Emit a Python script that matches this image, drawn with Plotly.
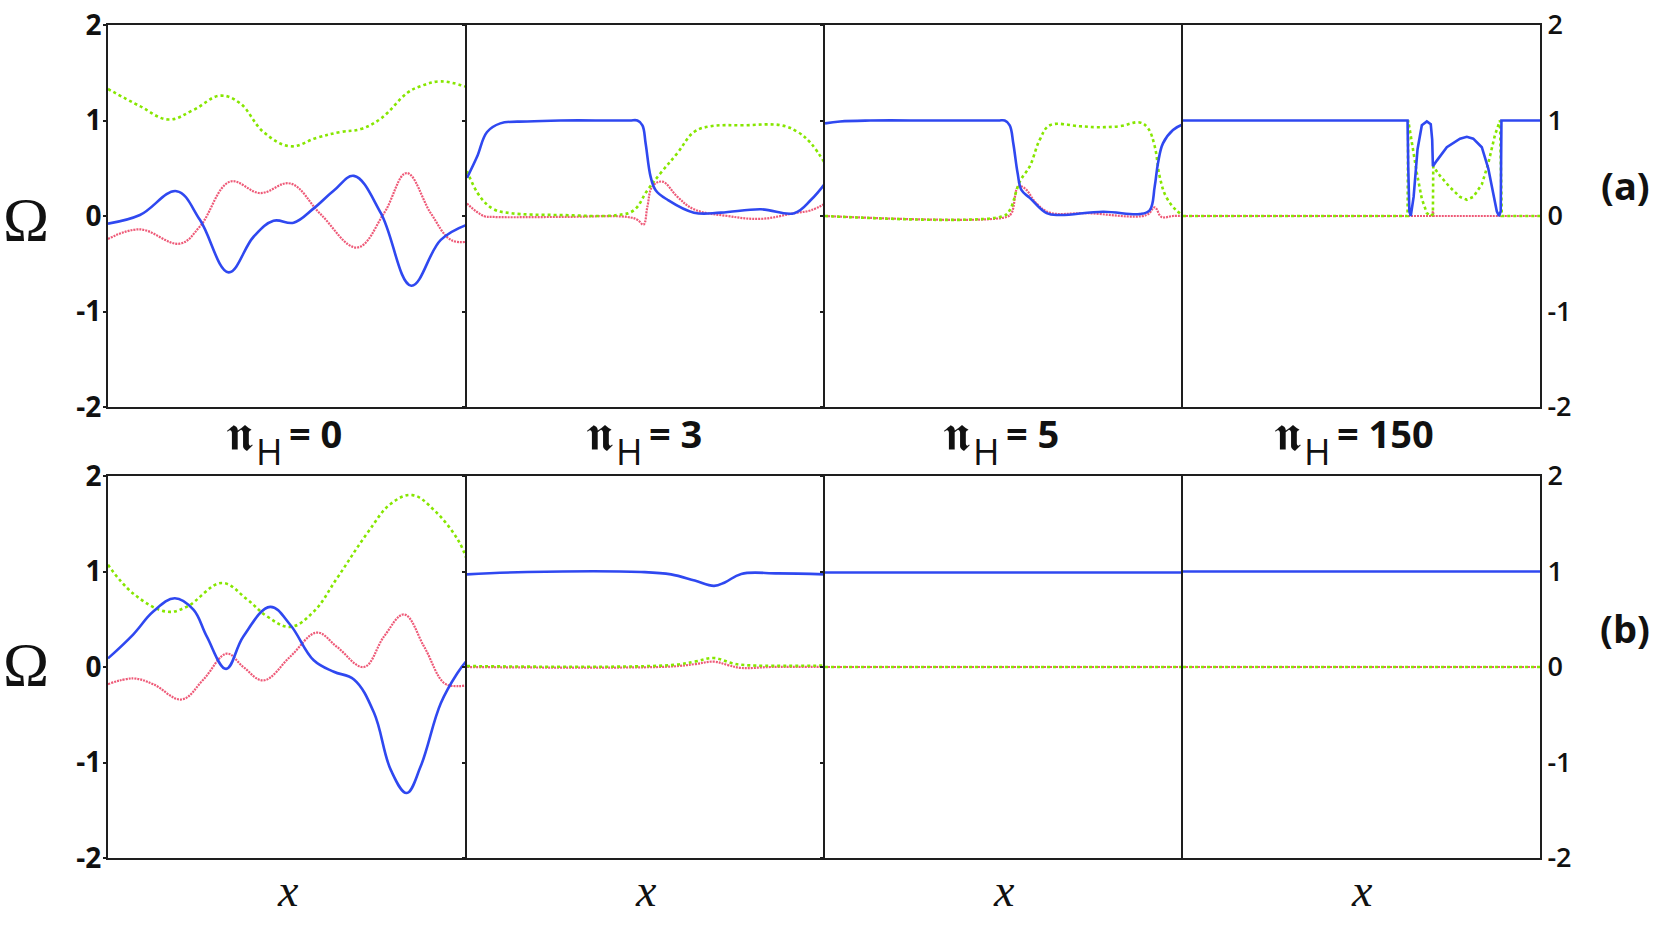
import plotly.graph_objects as go

W, H = 1661, 925

# Order parameter curves, x on a 0..100 scale per panel.
# Row (a): n_H = 0, 3, 5, 150
A1_BLUE_X = [0, 8.9, 19.1, 25.6, 33.6, 40.5, 46.1, 51.7, 57.3, 63.0, 68.5, 76.0, 84.5, 92.7, 100]
A1_BLUE_Y = [-0.08, 0.01, 0.26, -0.04, -0.59, -0.22, -0.05, -0.07, 0.08, 0.27, 0.42, 0.03, -0.73, -0.25, -0.09]
A1_GREEN_X = [0, 8.9, 16.8, 23.8, 31.2, 36.8, 43.3, 50.8, 58.2, 64.8, 70.4, 76.0, 83.4, 87.1, 92.7, 100]
A1_GREEN_Y = [1.33, 1.15, 1.01, 1.11, 1.26, 1.18, 0.88, 0.73, 0.82, 0.88, 0.91, 1.02, 1.29, 1.36, 1.41, 1.35]
A1_RED_X = [0, 8.9, 20.0, 25.6, 34.0, 42.4, 50.8, 59.2, 69.4, 76.9, 83.2, 89.9, 95.5, 100]
A1_RED_Y = [-0.24, -0.14, -0.29, -0.11, 0.36, 0.24, 0.34, 0.02, -0.33, 0.03, 0.45, 0.03, -0.25, -0.27]

A2_BLUE_X = [0, 2.8, 5.6, 9.3, 16.8, 26.1, 40.0, 45.5, 47.6, 49.0, 49.9, 51.3, 52.7, 56.0, 63.4, 70.9,
             82.1, 91.4, 96.1, 100]
A2_BLUE_Y = [0.40, 0.62, 0.88, 0.97, 0.99, 1.0, 1.0, 1.0, 1.0, 0.95, 0.76, 0.41, 0.27, 0.17, 0.035, 0.035,
             0.07, 0.03, 0.17, 0.34]
A2_GREEN_X = [0, 3.7, 7.5, 12.1, 26.1, 42.0, 46.6, 50.4, 54.1, 58.8, 63.4, 68.1, 77.4, 87.7, 92.4, 96.1, 100]
A2_GREEN_Y = [0.47, 0.20, 0.07, 0.03, 0.01, 0.01, 0.06, 0.27, 0.45, 0.66, 0.88, 0.94, 0.95, 0.95, 0.88, 0.76, 0.55]
A2_RED_X = [0, 4.7, 7.5, 26.1, 44.8, 47.6, 49.3, 50.4, 51.8, 54.6, 58.8, 63.4, 72.8, 82.1, 91.4, 96.1, 100]
A2_RED_Y = [0.13, 0.0, -0.01, -0.01, -0.01, -0.04, -0.09, 0.10, 0.31, 0.36, 0.20, 0.07, 0.0, -0.03, 0.03, 0.06, 0.13]

A3_BLUE_X = [0, 4.2, 12.6, 30.0, 45.0, 48.5, 50.2, 51.6, 52.6, 53.8, 54.9, 57.2, 61.9, 65.6, 77.7, 87.9,
             90.7, 92.1, 93.0, 94.4, 97.2, 100]
A3_BLUE_Y = [0.97, 0.99, 1.0, 1.0, 1.0, 1.0, 1.0, 0.95, 0.76, 0.45, 0.27, 0.19, 0.03, 0.01, 0.045, 0.02,
             0.06, 0.31, 0.55, 0.76, 0.90, 0.96]
A3_GREEN_X = [0, 49.8, 51.6, 54.4, 57.2, 60.0, 62.8, 71.2, 75.8, 82.3, 87.9, 90.2, 92.1, 93.5, 95.3, 98.1, 100]
A3_GREEN_Y = [0, 0, 0.06, 0.36, 0.52, 0.80, 0.95, 0.94, 0.93, 0.94, 0.98, 0.92, 0.73, 0.41, 0.20, 0.06, 0.01]
A3_RED_X = [0, 50.7, 52.1, 54.0, 55.8, 59.1, 62.8, 73.0, 89.8, 92.1, 94.0, 97.2, 100]
A3_RED_Y = [0, -0.01, 0.03, 0.31, 0.29, 0.13, 0.035, 0.03, 0.01, 0.09, -0.01, 0, 0]

A4_BLUE_X = [0, 62.9, 63.1, 63.4, 63.8, 64.6, 65.7, 66.9, 68.3, 69.4, 69.8, 70.0, 71.1, 73.9, 77.6,
             79.5, 81.3, 83.7, 85.5, 86.9, 87.9, 88.5, 89.0, 89.2, 100]
A4_BLUE_Y = [1.0, 1.0, 0.5, 0.05, 0.0, 0.2, 0.7, 0.95, 0.99, 0.96, 0.8, 0.52, 0.58, 0.72, 0.81,
             0.83, 0.81, 0.72, 0.5, 0.22, 0.05, 0.0, 0.05, 1.0, 1.0]
A4_GREEN_X = [0, 62.9, 63.1, 64.1, 65.5, 66.9, 68.3, 69.4, 70.0, 70.1, 72.0, 74.8, 77.6, 79.5, 81.3,
              83.7, 85.5, 87.4, 88.8, 89.3, 100]
A4_GREEN_Y = [0, 0, 1.0, 0.75, 0.45, 0.18, 0.03, 0.0, 0.02, 0.52, 0.42, 0.30, 0.20, 0.17, 0.20,
              0.33, 0.55, 0.85, 1.0, 0.0, 0.0]
A4_RED_X = [0, 69.8, 70.0, 70.2, 100]
A4_RED_Y = [0, 0, 0.05, 0, 0]

# Row (b)
B1_BLUE_X = [0, 7.0, 12.6, 18.6, 23.8, 27.5, 32.9, 37.7, 45.2, 50.8, 57.3, 62.9, 68.5, 74.1, 78.8,
             83.2, 87.1, 92.7, 97.4, 100]
B1_BLUE_Y = [0.09, 0.34, 0.58, 0.72, 0.60, 0.32, -0.02, 0.32, 0.63, 0.44, 0.07, -0.05, -0.13, -0.48, -1.08,
             -1.32, -1.04, -0.38, -0.06, 0.07]
B1_GREEN_X = [0, 7.0, 16.3, 21.9, 31.7, 38.7, 44.3, 50.8, 57.3, 63.8, 72.2, 78.8, 84.8, 90.9, 97.5, 100]
B1_GREEN_Y = [1.07, 0.77, 0.58, 0.63, 0.88, 0.71, 0.53, 0.42, 0.58, 0.93, 1.40, 1.71, 1.80, 1.64, 1.33, 1.12]
B1_RED_X = [0, 7.0, 12.6, 20.5, 26.6, 33.1, 37.7, 43.3, 50.8, 58.2, 63.8, 71.3, 76.9, 82.5, 88.1, 93.7, 97.4, 100]
B1_RED_Y = [-0.18, -0.12, -0.18, -0.34, -0.13, 0.14, 0.0, -0.14, 0.11, 0.36, 0.21, 0.0, 0.32, 0.55, 0.21,
            -0.17, -0.20, -0.19]

B2_BLUE_X = [0, 16.8, 48.6, 57.0, 63.6, 69.0, 72.0, 76.6, 86.9, 100]
B2_BLUE_Y = [0.97, 0.995, 0.995, 0.97, 0.905, 0.85, 0.885, 0.975, 0.98, 0.97]
B2_GREEN_X = [0, 57.0, 63.6, 69.0, 74.0, 77.6, 100]
B2_GREEN_Y = [0.01, 0.02, 0.056, 0.094, 0.04, 0.02, 0.015]
B2_RED_X = [0, 57.0, 63.6, 69.0, 72.9, 76.6, 85.0, 100]
B2_RED_Y = [0, 0.005, 0.03, 0.056, 0.02, -0.01, 0, 0]

B3_BLUE_X = [0, 50, 100]
B3_BLUE_Y = [0.99, 0.99, 0.99]
B3_GREEN_X = [0, 100]
B3_GREEN_Y = [0, 0]
B3_RED_X = [0, 100]
B3_RED_Y = [0, 0]

B4_BLUE_X = [0, 100]
B4_BLUE_Y = [1.0, 1.0]
B4_GREEN_X = [0, 100]
B4_GREEN_Y = [0, 0]
B4_RED_X = [0, 100]
B4_RED_Y = [0, 0]

N_H = ["0", "3", "5", "150"]
Y_TICKS = [-2, -1, 0, 1, 2]

# (row, col, curves, line shape)
PANELS = [
    (0, 0, (A1_BLUE_X, A1_BLUE_Y, A1_GREEN_X, A1_GREEN_Y, A1_RED_X, A1_RED_Y), "spline"),
    (0, 1, (A2_BLUE_X, A2_BLUE_Y, A2_GREEN_X, A2_GREEN_Y, A2_RED_X, A2_RED_Y), "spline"),
    (0, 2, (A3_BLUE_X, A3_BLUE_Y, A3_GREEN_X, A3_GREEN_Y, A3_RED_X, A3_RED_Y), "spline"),
    (0, 3, (A4_BLUE_X, A4_BLUE_Y, A4_GREEN_X, A4_GREEN_Y, A4_RED_X, A4_RED_Y), "linear"),
    (1, 0, (B1_BLUE_X, B1_BLUE_Y, B1_GREEN_X, B1_GREEN_Y, B1_RED_X, B1_RED_Y), "spline"),
    (1, 1, (B2_BLUE_X, B2_BLUE_Y, B2_GREEN_X, B2_GREEN_Y, B2_RED_X, B2_RED_Y), "spline"),
    (1, 2, (B3_BLUE_X, B3_BLUE_Y, B3_GREEN_X, B3_GREEN_Y, B3_RED_X, B3_RED_Y), "linear"),
    (1, 3, (B4_BLUE_X, B4_BLUE_Y, B4_GREEN_X, B4_GREEN_Y, B4_RED_X, B4_RED_Y), "linear"),
]

BLUE = "#2f48f0"
GREEN = "#86e600"
RED = "#ee5a78"
AXIS = "#1e1e1e"
INK = "#111111"

# panel geometry in picture pixels
COL_EDGES = [108, 467, 825, 1183, 1540]
ROW_EDGES = [(25, 407), (476, 858)]
TITLE_LEFT = [225, 585, 942, 1273]   # left edge of each "n_H = .." label


def px_x(x):
    return x / W


def px_y(y):
    return 1 - y / H


def label(x, y, text, size, family="Open Sans", weight="normal", xanchor="center"):
    return dict(x=px_x(x), y=px_y(y), xref="paper", yref="paper", text=text,
                showarrow=False, xanchor=xanchor, yanchor="middle",
                font=dict(family=family, size=size, color=INK, weight=weight))


fig = go.Figure()
layout = {}

for i, (row, col, curves, shape) in enumerate(PANELS, start=1):
    bx, by, gx, gy, rx, ry = curves
    xa = "x" if i == 1 else f"x{i}"
    ya = "y" if i == 1 else f"y{i}"
    common = dict(xaxis=xa, yaxis=ya, mode="lines", hoverinfo="skip")
    smooth = dict(shape=shape, smoothing=1.1) if shape == "spline" else dict(shape=shape)
    fig.add_trace(go.Scatter(x=rx, y=ry, line=dict(color=RED, width=2.2, dash="2px,1px", **smooth), **common))
    fig.add_trace(go.Scatter(x=gx, y=gy, line=dict(color=GREEN, width=2.6, dash="dot", **smooth), **common))
    fig.add_trace(go.Scatter(x=bx, y=by, line=dict(color=BLUE, width=2.6, **smooth), **common))

    top, bottom = ROW_EDGES[row]
    xkey = "xaxis" if i == 1 else f"xaxis{i}"
    ykey = "yaxis" if i == 1 else f"yaxis{i}"
    layout[xkey] = dict(
        domain=[px_x(COL_EDGES[col]), px_x(COL_EDGES[col + 1])],
        range=[0, 100], anchor=ya, automargin=False,
        showgrid=False, zeroline=False, showticklabels=False, ticks="",
        showline=True, mirror=True, linecolor=AXIS, linewidth=2,
    )
    yaxis = dict(
        domain=[px_y(bottom), px_y(top)],
        range=[-2, 2], anchor=xa, automargin=False,
        tickvals=Y_TICKS, ticktext=[str(t) for t in Y_TICKS],
        showgrid=False, zeroline=False,
        ticks="outside", ticklen=3, tickwidth=1.5, tickcolor=AXIS,
        showline=True, mirror=False, linecolor=AXIS, linewidth=2,
        showticklabels=False, ticklabeloverflow="allow",
    )
    if col == 0:
        yaxis.update(showticklabels=True, ticklabelstandoff=-4,
                     tickfont=dict(family="Open Sans", size=28, color=INK, weight="bold"))
    elif col == 3:
        yaxis.update(showticklabels=True, side="right", mirror=True, ticks="",
                     tickfont=dict(family="Open Sans", size=27, color=INK, weight=600))
    layout[ykey] = yaxis

annotations = []
for col, n in enumerate(N_H):
    x0 = TITLE_LEFT[col]
    annotations.append(label(x0, 432, "𝖓", 50, xanchor="left"))
    annotations.append(label(x0 + 29, 451, "H", 36, xanchor="left"))
    annotations.append(label(x0 + 62, 433, f"= {n}", 38, weight="bold", xanchor="left"))
    cx = (COL_EDGES[col] + COL_EDGES[col + 1]) / 2
    annotations.append(label(cx, 890, "<i>x</i>", 46, family="Liberation Serif"))

annotations.append(label(1625, 185, "(a)", 38, weight="bold"))
annotations.append(label(1625, 628, "(b)", 38, weight="bold"))
for yc in (219, 664):
    annotations.append(label(26, yc, "Ω", 62, family="Liberation Serif"))

fig.update_layout(
    template="none",
    width=W, height=H,
    margin=dict(l=0, r=0, t=0, b=0, autoexpand=False),
    paper_bgcolor="white", plot_bgcolor="white",
    showlegend=False,
    annotations=annotations,
    **layout,
)

# drop the browser's default body margin so the figure fills the window exactly
fig.write_html("out.html", config={"displayModeBar": False},
               post_script="document.body.style.margin = '0';")
